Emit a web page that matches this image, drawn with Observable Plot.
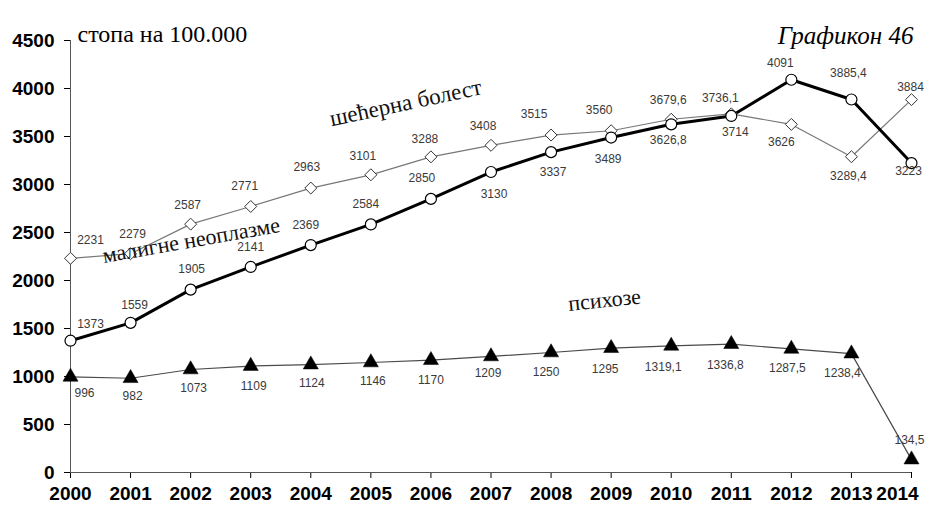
<!DOCTYPE html>
<html>
<head>
<meta charset="utf-8">
<script src="https://cdn.jsdelivr.net/npm/d3@7"></script>
<script src="https://cdn.jsdelivr.net/npm/@observablehq/plot@0.6"></script>
<style>
  body { margin: 0; background: #fff; }
  #chart svg { display: block; }
</style>
</head>
<body>
<div id="chart"></div>
<script>
// ---------- data ----------
const years = [2000, 2001, 2002, 2003, 2004, 2005, 2006, 2007, 2008, 2009, 2010, 2011, 2012, 2013, 2014];
const diabetes  = [2231, 2279, 2587, 2771, 2963, 3101, 3288, 3408, 3515, 3560, 3679.6, 3736.1, 3626, 3289.4, 3884];
const malignant = [1373, 1559, 1905, 2141, 2369, 2584, 2850, 3130, 3337, 3489, 3626.8, 3714, 4091, 3885.4, 3223];
const psychoses = [996, 982, 1073, 1109, 1124, 1146, 1170, 1209, 1250, 1295, 1319.1, 1336.8, 1287.5, 1238.4, 134.5];
const yTicks = [0, 500, 1000, 1500, 2000, 2500, 3000, 3500, 4000, 4500];
const seriesNames = ["шећерна болест", "малигне неоплазме", "психозе"];
const titleText = "стопа на 100.000";
const chartNoText = "Графикон 46";

// ---------- layout (label nudges in px, annotation anchors) ----------
const diabNudge = [[20,-18],[2,-20],[-3,-19],[-6,-20],[-4,-21],[-8,-19],[-6,-18],[-8,-19],[-17,-21],[-12,-21],[-3,-19],[-11,-16],[-10,18],[-3,19],[-1,-12]];
const maligNudge = [[20,-17],[4,-18],[1,-20],[0,-20],[-5,-20],[-5,-20],[-9,-21],[3,22],[2,20],[-3,22],[-3,16],[4,16],[-11,-17],[-3,-26],[-3,8]];
const psychNudge = [[14,16],[2,18],[3,19],[3,20],[1,19],[2,19],[0,20],[-3,17],[-5,20],[-6,21],[-8,21],[-6,21],[-4,19],[-9,20],[-2,-19]];
const annot = [
  {name: seriesNames[0], x: 2005.58, y: 3850, rotate: -12, size: 23},
  {name: seriesNames[1], x: 2002.01, y: 2417, rotate: -10, size: 22},
  {name: seriesNames[2], x: 2008.89, y: 1795, rotate: -6, size: 22}
];

const fmt = v => String(v).replace(".", ",");
const rows = (vals) => years.map((yr, i) => ({year: yr, value: vals[i]}));
const dData = rows(diabetes), mData = rows(malignant), pData = rows(psychoses);
const lastYear = years[years.length - 1];

function labelMarks(data, nudge) {
  return data.map((d, i) => Plot.text([d], {
    x: "year", y: "value", text: d2 => fmt(d2.value),
    dx: nudge[i][0], dy: nudge[i][1],
    fontSize: 12, fill: "#3a3a3a", fontFamily: "Liberation Sans"
  }));
}

const xAxisOpts = {tickSize: 6, tickPadding: 8, fontSize: 19, fontWeight: "bold", color: "#000"};

const chart = Plot.plot({
  width: 926,
  height: 508,
  marginLeft: 70,
  marginRight: 15,
  marginTop: 40,
  marginBottom: 36,
  style: {fontFamily: "Liberation Sans", background: "#fff", overflow: "visible"},
  x: {type: "linear", domain: [2000, 2014], axis: null},
  y: {domain: [0, 4500], axis: null},
  marks: [
    Plot.axisY({ticks: yTicks, tickSize: 6, tickPadding: 10, fontSize: 19, fontWeight: "bold", color: "#000", tickFormat: d => String(d)}),
    Plot.axisX({...xAxisOpts, ticks: years, tickFormat: d => d === lastYear ? "" : String(d)}),
    Plot.axisX({...xAxisOpts, ticks: [lastYear], tickSize: 0, dx: -14, tickPadding: 14, tickFormat: d => String(d)}),
    Plot.ruleX([2000], {stroke: "#555", strokeWidth: 1}),
    Plot.ruleY([0], {stroke: "#555", strokeWidth: 1}),
    Plot.line(pData, {x: "year", y: "value", stroke: "#4a4a4a", strokeWidth: 1.2}),
    Plot.line(dData, {x: "year", y: "value", stroke: "#777", strokeWidth: 1.2}),
    Plot.line(mData, {x: "year", y: "value", stroke: "#000", strokeWidth: 3}),
    Plot.dot(dData, {x: "year", y: "value", symbol: "diamond2", r: 5.4, fill: "#fff", stroke: "#333", strokeWidth: 1}),
    Plot.dot(mData, {x: "year", y: "value", symbol: "circle", r: 5.5, fill: "#fff", stroke: "#000", strokeWidth: 1.2}),
    Plot.dot(pData, {x: "year", y: "value", symbol: "triangle", r: 5.6, fill: "#000", stroke: "#000", strokeWidth: 0.5}),
    ...labelMarks(dData, diabNudge),
    ...labelMarks(mData, maligNudge),
    ...labelMarks(pData, psychNudge),
    ...annot.map(a => Plot.text([a], {x: "x", y: "y", text: "name", rotate: a.rotate, fontSize: a.size, fontFamily: "Liberation Serif", fill: "#111"})),
    Plot.text([titleText], {frameAnchor: "top-left", text: d => d, textAnchor: "start", dx: 7, dy: -16, fontSize: 24, fontFamily: "Liberation Serif", fill: "#000"}),
    Plot.text([chartNoText], {frameAnchor: "top-right", text: d => d, textAnchor: "end", dx: 2, dy: -14, fontSize: 25, fontStyle: "italic", fontFamily: "Liberation Serif", fill: "#000"})
  ]
});
document.getElementById("chart").appendChild(chart);
</script>
</body>
</html>
